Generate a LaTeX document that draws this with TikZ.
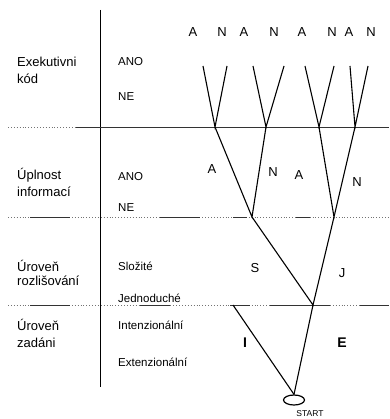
\documentclass[tikz,border=0pt]{standalone}
\usepackage{fontspec}
\setmainfont{Liberation Sans}
\usetikzlibrary{shapes.geometric}
\begin{document}
\begin{tikzpicture}[x=1pt,y=-1pt,
  lab/.style={anchor=west,inner sep=0pt,font=\fontsize{13}{15}\selectfont},
  opt/.style={anchor=west,inner sep=0pt,font=\fontsize{11.5}{13}\selectfont},
  br/.style={inner sep=0pt,font=\fontsize{13}{15}\selectfont},
  tree/.style={line width=1.1pt},
  sepsolid/.style={line width=0.9pt,black!80},
  sepdot/.style={line width=0.9pt,black!55,dotted},
  vsep/.style={line width=1pt}]
\useasboundingbox (0,0) rectangle (389,419);
% vertical separator
\coordinate (vt) at (100,10);
\coordinate (vb) at (100,387);
\draw[vsep] (vt) -- (vb);
% horizontal separators
\foreach \y in {127,217,305}{
  \draw[sepdot] (8,\y) -- (389,\y);
}
\draw[sepsolid] (76,127) -- (389,127);
\draw[sepsolid] (30,217) -- (70,217) (160,217) -- (200,217) (233,217) -- (247,217) (296,217) -- (310,217);
\draw[sepsolid] (30,305) -- (70,305) (140,305) -- (170,305) (230,305) -- (250,305) (270,305) -- (330,305) (360,305) -- (389,305);
% left labels
\node[lab] (ek1) at (17,62) {Exekutivni};
\node[lab] (ek2) at (17,79) {kód};
\node[lab] (ui1) at (17,175) {Úplnost};
\node[lab] (ui2) at (17,192) {informací};
\node[lab] (ur1) at (17,266) {Úroveň};
\node[lab] (ur2) at (17,281) {rozlišování};
\node[lab] (uz1) at (17,325) {Úroveň};
\node[lab] (uz2) at (17,343) {zadáni};
% option labels
\node[opt] (o1) at (118,62) {ANO};
\node[opt] (o2) at (118,97) {NE};
\node[opt] (o3) at (118,177) {ANO};
\node[opt] (o4) at (118,208) {NE};
\node[opt] (o5) at (118,266) {Složité};
\node[opt] (o6) at (118,298) {Jednoduché};
\node[opt] (o7) at (118,325) {Intenzionální};
\node[opt] (o8) at (118,362) {Extenzionální};
% tree
\node[draw,ellipse,line width=1.2pt,minimum width=21pt,minimum height=10pt,inner sep=0pt] (start) at (294,400) {};
\node[inner sep=0pt,font=\fontsize{8.5}{10}\selectfont] (startl) at (310,414) {START};
\coordinate (i) at (233,305);
\coordinate (e) at (313,305);
\coordinate (s) at (252,217);
\coordinate (j) at (334,217);
\coordinate (sa) at (215,127);
\coordinate (sn) at (266,127);
\coordinate (ja) at (319,127);
\coordinate (jn) at (355,127);
\coordinate (t1) at (203,66);
\coordinate (t2) at (227,66);
\coordinate (t3) at (253,66);
\coordinate (t4) at (284,66);
\coordinate (t5) at (305,66);
\coordinate (t6) at (334,66);
\coordinate (t7) at (350,66);
\coordinate (t8) at (368,66);
\draw[tree] (i) -- (start.north);
\draw[tree] (e) -- (start.north);
\draw[tree] (s) -- (e) -- (j);
\draw[tree] (sa) -- (s) -- (sn);
\draw[tree] (ja) -- (j) -- (jn);
\draw[tree] (t1) -- (sa) -- (t2);
\draw[tree] (t3) -- (sn) -- (t4);
\draw[tree] (t5) -- (ja) -- (t6);
\draw[tree] (t7) -- (jn) -- (t8);
% branch labels
\node[br,font=\fontsize{14}{16}\selectfont\bfseries] (li) at (245,343) {I};
\node[br,font=\fontsize{14}{16}\selectfont\bfseries] (le) at (342,343) {E};
\node[br] (ls) at (255,268) {S};
\node[br] (lj) at (342,273) {J};
\node[br] (la1) at (212,169) {A};
\node[br] (ln1) at (273,172) {N};
\node[br] (la2) at (299,175) {A};
\node[br] (ln2) at (357,182) {N};
% top labels
\node[br] (a1) at (193,32) {A};
\node[br] (n1) at (222,32) {N};
\node[br] (a2) at (244,32) {A};
\node[br] (n2) at (274,32) {N};
\node[br] (a3) at (302,32) {A};
\node[br] (n3) at (332,32) {N};
\node[br] (a4) at (349,32) {A};
\node[br] (n4) at (371,32) {N};
\end{tikzpicture}
\end{document}
